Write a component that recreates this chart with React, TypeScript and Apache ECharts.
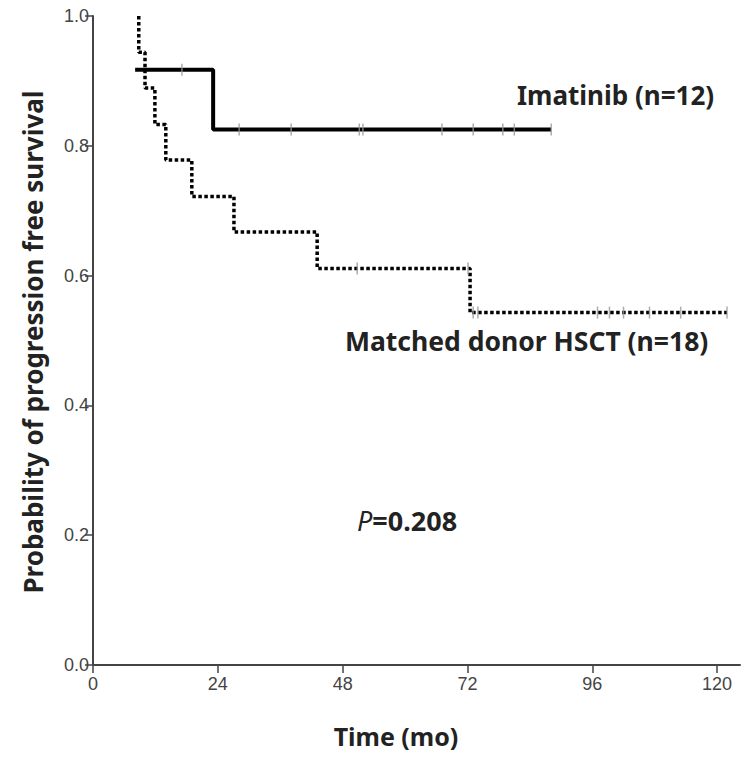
import React, { useEffect, useRef } from "react";
import * as echarts from "echarts";

// Kaplan-Meier step points (time in months, survival probability)
const imatinibTimes = [8.1, 23.1, 88.1];
const imatinibSurv = [0.917, 0.825, 0.825];
const imatinibCensorTimes = [17.1, 28.1, 38.1, 51.2, 51.9, 67.1, 73.1, 78.8, 81.0, 88.1];
const imatinibCensorSurv = [0.917, 0.825, 0.825, 0.825, 0.825, 0.825, 0.825, 0.825, 0.825, 0.825];

const hsctTimes = [8.8, 8.8, 10.0, 11.9, 14.0, 19.0, 27.1, 43.1, 72.5, 121.9];
const hsctSurv = [1.0, 0.944, 0.889, 0.833, 0.778, 0.722, 0.667, 0.611, 0.543, 0.543];
const hsctCensorTimes = [50.8, 72.1, 73.1, 74.0, 97.0, 99.3, 102.0, 107.0, 113.0, 121.9];
const hsctCensorSurv = [0.611, 0.611, 0.543, 0.543, 0.543, 0.543, 0.543, 0.543, 0.543, 0.543];

const xTicks = [0, 24, 48, 72, 96, 120];

const xTitle = "Time (mo)";
const yTitle = "Probability of progression free survival";
const label1 = "Imatinib (n=12)";
const label2 = "Matched donor HSCT (n=18)";
const pValue = "0.208";

const boldFont = "'Noto Sans', 'Open Sans', sans-serif";
const tickFont = "'Liberation Sans', Arial, sans-serif";

export default function App() {
  const ref = useRef<HTMLDivElement>(null);
  useEffect(() => {
    document.body.style.margin = "0";
    if (!ref.current) return;
    const chart = echarts.init(ref.current, null, { renderer: "svg" });
    const zip = (a: number[], b: number[]) => a.map((v, i) => [v, b[i]]);
    chart.setOption({
      animation: false,
      backgroundColor: "#ffffff",
      grid: { left: 93, top: 16, right: 10, bottom: 92, containLabel: false },
      xAxis: {
        type: "value",
        min: 0,
        max: 124.4,
        axisLine: { show: true, lineStyle: { color: "#444", width: 2 } },
        axisTick: { show: true, customValues: xTicks, length: 8, lineStyle: { color: "#444", width: 1.5 } },
        axisLabel: {
          customValues: xTicks,
          color: "#444",
          fontSize: 18,
          fontFamily: tickFont,
          margin: 10,
        },
        splitLine: { show: false },
      },
      yAxis: {
        type: "value",
        min: 0,
        max: 1,
        interval: 0.2,
        axisLine: { show: true, lineStyle: { color: "#444", width: 2 } },
        axisTick: { show: true, length: 8, lineStyle: { color: "#444", width: 1.5 } },
        axisLabel: {
          color: "#444",
          fontSize: 18,
          fontFamily: tickFont,
          margin: 4,
          formatter: (v: number) => v.toFixed(1),
        },
        splitLine: { show: false },
      },
      series: [
        {
          type: "line",
          step: "end",
          data: zip(imatinibTimes, imatinibSurv),
          showSymbol: false,
          lineStyle: { color: "#000", width: 4, type: "solid" },
          z: 3,
        },
        {
          type: "line",
          step: "end",
          data: zip(hsctTimes, hsctSurv),
          showSymbol: false,
          lineStyle: { color: "#000", width: 3.5, type: [3.5, 2.5], cap: "butt" },
          z: 3,
        },
        {
          type: "scatter",
          data: zip(imatinibCensorTimes, imatinibCensorSurv),
          symbol: "rect",
          symbolSize: [1.5, 12],
          itemStyle: { color: "#999" },
          z: 4,
        },
        {
          type: "scatter",
          data: zip(hsctCensorTimes, hsctCensorSurv),
          symbol: "rect",
          symbolSize: [1.5, 12],
          itemStyle: { color: "#999" },
          z: 4,
        },
      ],
      graphic: [
        {
          type: "text",
          x: 33,
          y: 342,
          rotation: Math.PI / 2,
          style: {
            text: yTitle,
            font: `bold 26px ${boldFont}`,
            fill: "#222",
            align: "center",
            verticalAlign: "middle",
          },
        },
        {
          type: "text",
          x: 396,
          y: 736,
          style: {
            text: xTitle,
            font: `bold 25px ${boldFont}`,
            fill: "#222",
            align: "center",
            verticalAlign: "middle",
          },
        },
        {
          type: "text",
          x: 517,
          y: 95,
          style: {
            text: label1,
            font: `bold 26px ${boldFont}`,
            fill: "#222",
            align: "left",
            verticalAlign: "middle",
          },
        },
        {
          type: "text",
          x: 345,
          y: 341,
          style: {
            text: label2,
            font: `bold 26.5px ${boldFont}`,
            fill: "#222",
            align: "left",
            verticalAlign: "middle",
          },
        },
        {
          type: "text",
          x: 357,
          y: 520,
          style: {
            text: `{p|P}{v|=${pValue}}`,
            rich: {
              p: { font: `italic 27px ${boldFont}`, fill: "#222" },
              v: { font: `bold 27px ${boldFont}`, fill: "#222" },
            },
            align: "left",
            verticalAlign: "middle",
          },
        },
      ],
    });
    return () => chart.dispose();
  }, []);
  return <div ref={ref} style={{ width: 750, height: 757 }} />;
}
